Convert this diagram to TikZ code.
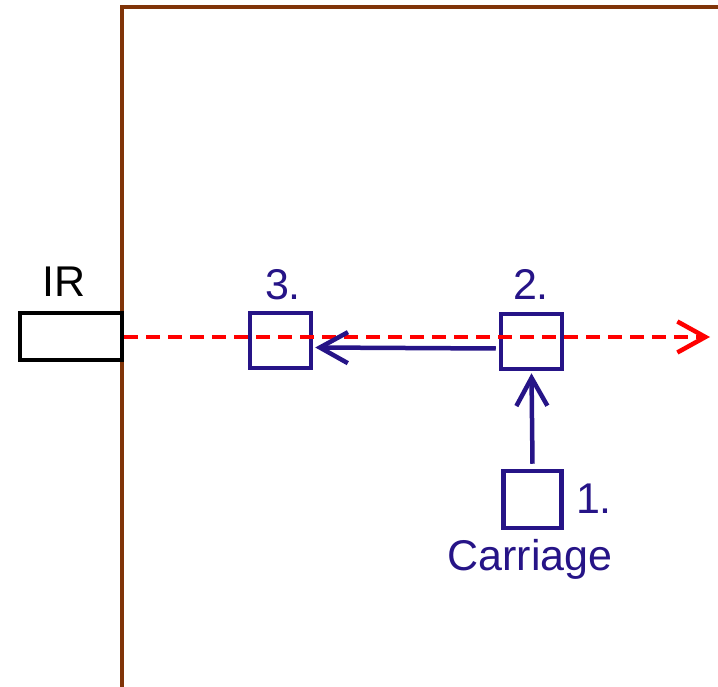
\documentclass[tikz,border=0pt]{standalone}
\usepackage{fontspec}
\setmainfont{Liberation Sans}
\usetikzlibrary{arrows.meta}
\definecolor{frame}{RGB}{128,52,8}
\definecolor{navy}{RGB}{38,20,135}
\begin{document}
\begin{tikzpicture}[x=1pt,y=-1pt,
  lbl/.style={font=\fontsize{43}{50}\selectfont,inner sep=0pt,anchor=base},
  carbox/.style={draw=navy,line width=4.5pt,inner sep=0pt,minimum width=#1},
  barb/.style={-{Straight Barb[length=28pt,width=31pt]}},
]
\useasboundingbox (0,0) rectangle (718,687);
% frame
\draw[frame,line width=4pt] (122,690) -- (122,7) -- (722,7);
% IR sensor
\node[draw=black,line width=4pt,minimum width=102pt,minimum height=47pt,inner sep=0pt] (ir) at (71,336.5) {};
\node[lbl,text=black] (irl) at (64,297) {IR};
% boxes
\node[carbox=61pt,minimum height=55pt] (b3) at (280.5,340.5) {};
\node[carbox=61pt,minimum height=55pt] (b2) at (531.5,341.5) {};
\node[carbox=58pt,minimum height=57pt] (b1) at (532.5,499.5) {};
\node[lbl,text=navy] (l3) at (283,299) {3.};
\node[lbl,text=navy] (l2) at (531,299) {2.};
\node[lbl,text=navy] (l1) at (594,513) {1.};
\node[lbl,text=navy] (lc) at (530,570) {Carriage};
% red beam
\coordinate (beamend) at (710,337);
\draw[red,line width=4.5pt,dash pattern=on 14pt off 8pt,barb] (ir.east |- beamend) -- (beamend);
% moves
\draw[navy,line width=4.5pt,barb] ([yshift=5pt]b1.north) -- ([yshift=-2pt]b2.south);
\draw[navy,line width=4.5pt,barb] ([xshift=-3pt,yshift=-7pt]b2.west) -- ([xshift=2pt,yshift=-7pt]b3.east);
\end{tikzpicture}
\end{document}
